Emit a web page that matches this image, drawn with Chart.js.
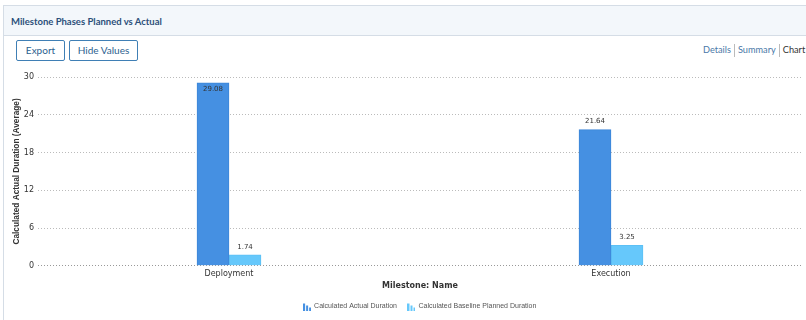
<!DOCTYPE html>
<html>
<head>
<meta charset="utf-8">
<script src="https://cdn.jsdelivr.net/npm/chart.js@4.4.1/dist/chart.umd.min.js"></script>
<style>
  body { margin: 0; background: #fff; font-family: "Lato", "Liberation Sans", sans-serif; overflow: hidden; }
  #card { position: absolute; left: 3px; top: 5px; width: 815px; height: 330px; border: 1px solid #d5dde6; background: #fff; }
  #head { height: 29px; background: #f3f7fb; border-bottom: 1px solid #d5dde6; }
  #head span { position: absolute; left: 7px; top: 10px; font-size: 9.5px; font-weight: bold; color: #2c4f7a; }
  .btn { position: absolute; top: 34px; height: 19px; border: 1px solid #3f7fb5; border-radius: 2px; color: #2c5f8f; font-size: 10px; line-height: 19px; text-align: center; background: #fff; }
  #links { position: absolute; left: 703px; top: 44px; font-size: 9.2px; color: #4a78a8; white-space: nowrap; }
  #links b { font-weight: normal; color: #333; }
  #links i { display: inline-block; width: 1px; height: 13px; background: #bbb; vertical-align: middle; margin: 0 3px; }
  #wrap { position: absolute; left: 0; top: 66px; width: 806px; height: 254px; }
</style>
</head>
<body>
<div id="card">
  <div id="head"><span>Milestone Phases Planned vs Actual</span></div>
  <div class="btn" style="left:12px;width:47px;">Export</div>
  <div class="btn" style="left:65px;width:67px;">Hide Values</div>
</div>
<div id="links">Details<i></i>Summary<i></i><b>Chart</b></div>
<div id="wrap"><canvas id="chart"></canvas></div>
<script>
var milestones = ["Deployment", "Execution"];
var actualDuration = [29.08, 21.64];
var plannedDuration = [1.74, 3.25];
var yTicks = [0, 6, 12, 18, 24, 30];

function barIcon(color) {
  var c = document.createElement("canvas");
  c.width = 8; c.height = 8;
  var g = c.getContext("2d");
  g.fillStyle = color;
  g.fillRect(0, 1, 2, 7);
  g.fillRect(3, 3, 2, 5);
  g.fillRect(6, 5, 2, 3);
  return c;
}

var valueLabels = {
  id: "valueLabels",
  afterDatasetsDraw: function (chart) {
    var ctx = chart.ctx;
    ctx.save();
    ctx.font = "7px 'DejaVu Sans', sans-serif";
    ctx.fillStyle = "#333";
    ctx.textAlign = "center";
    ctx.textBaseline = "middle";
    chart.data.datasets.forEach(function (ds, i) {
      chart.getDatasetMeta(i).data.forEach(function (bar, j) {
        var y = bar.y - 8;
        if (bar.y - chart.chartArea.top < 12) y = bar.y + 6;
        ctx.fillText(ds.data[j].toFixed(2), bar.x, y);
      });
    });
    ctx.restore();
  }
};

var ctx0 = document.getElementById("chart");
var myChart = new Chart(ctx0, {
  type: "bar",
  data: {
    labels: milestones,
    datasets: [
      { label: "Calculated Actual Duration", data: actualDuration, backgroundColor: "#4590e2", borderColor: "#3d86d8", borderWidth: 1, pointStyle: barIcon("#4590e2") },
      { label: "Calculated Baseline Planned Duration", data: plannedDuration, backgroundColor: "#66c8fb", borderColor: "#5cc0f5", borderWidth: 1, pointStyle: barIcon("#66c8fb") }
    ]
  },
  options: {
    responsive: true,
    maintainAspectRatio: false,
    animation: false,
    layout: { padding: { top: 11, right: 4, left: 12, bottom: 0 } },
    datasets: { bar: { barThickness: 32, categoryPercentage: 1 } },
    plugins: {
      tooltip: { enabled: false },
      legend: {
        position: "bottom",
        fullSize: false,
        labels: { usePointStyle: true, boxWidth: 8, boxHeight: 8, padding: 11, color: "#555", font: { size: 7, family: "'Liberation Sans', sans-serif" } }
      }
    },
    scales: {
      x: {
        grid: { display: false, drawTicks: false, tickLength: 0 },
        border: { display: false },
        ticks: { color: "#333", font: { size: 8, family: "'DejaVu Sans', sans-serif" }, padding: 3 },
        title: { display: true, text: "Milestone: Name", color: "#333", font: { size: 8, weight: "bold", family: "'DejaVu Sans', sans-serif" }, padding: { top: 0, bottom: 1 } }
      },
      y: {
        min: 0, max: 30,
        afterBuildTicks: function (axis) { axis.ticks = yTicks.map(function (v) { return { value: v }; }); },
        afterFit: function (axis) { axis.width = 26; },
        grid: {
          color: function (c) { return c.tick && c.tick.value === 0 ? "#999" : "#bbb"; },
          lineWidth: 1, drawTicks: false
        },
        border: { display: false, dash: [1, 2] },
        ticks: { color: "#333", font: { size: 8, family: "'DejaVu Sans', sans-serif" }, padding: 4 },
        title: { display: true, text: "Calculated Actual Duration (Average)", color: "#333", font: { size: 8.3, weight: "bold", family: "'Liberation Sans', sans-serif" }, padding: 0 }
      }
    }
  },
  plugins: [valueLabels]
});
</script>
</body>
</html>
